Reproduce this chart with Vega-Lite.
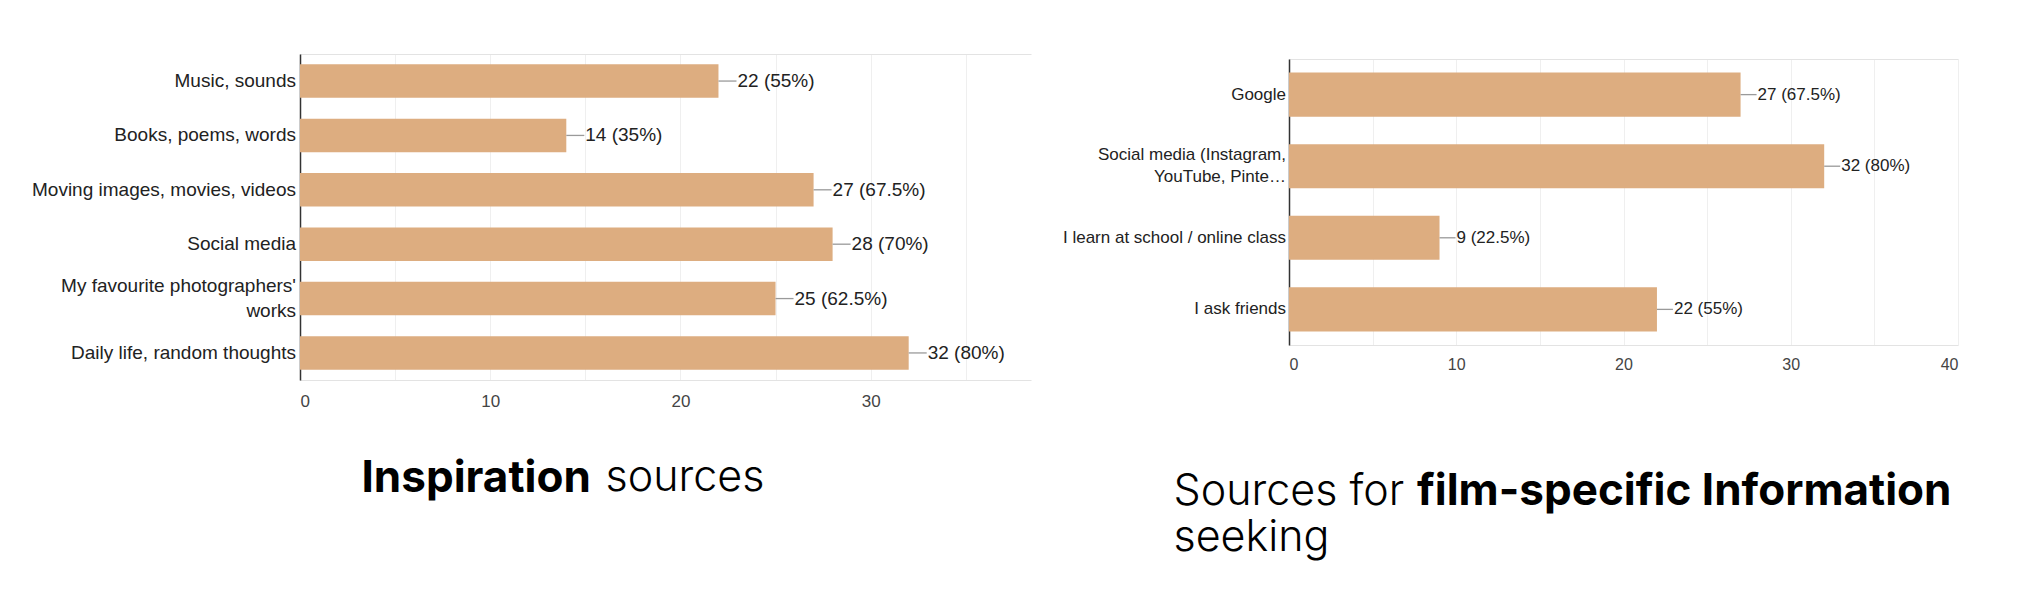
{
  "$schema": "https://vega.github.io/schema/vega-lite/v6.json",
  "padding": {"left": 31, "top": 54, "right": 5, "bottom": 5},
  "background": "white",
  "spacing": 258,
  "bounds": "flush",
  "config": {"font": "Liberation Sans"},
  "datasets": {
    "inspiration": [
      {"source": "Music, sounds", "count": 22, "label": "22 (55%)"},
      {"source": "Books, poems, words", "count": 14, "label": "14 (35%)"},
      {"source": "Moving images, movies, videos", "count": 27, "label": "27 (67.5%)"},
      {"source": "Social media", "count": 28, "label": "28 (70%)"},
      {"source": "My favourite photographers' works", "count": 25, "label": "25 (62.5%)"},
      {"source": "Daily life, random thoughts", "count": 32, "label": "32 (80%)"}
    ],
    "film": [
      {"source": "Google", "count": 27, "label": "27 (67.5%)"},
      {"source": "Social media (Instagram, YouTube, Pinte…", "count": 32, "label": "32 (80%)"},
      {"source": "I learn at school / online class", "count": 9, "label": "9 (22.5%)"},
      {"source": "I ask friends", "count": 22, "label": "22 (55%)"}
    ]
  },
  "hconcat": [
    {
      "width": 731,
      "height": 326,
      "view": {"stroke": null},
      "data": {"name": "inspiration"},
      "layer": [
        {
          "mark": {"type": "bar", "color": "#ddad80"},
          "encoding": {
            "y": {
              "field": "source", "type": "nominal", "sort": null,
              "scale": {"paddingInner": 0.385, "paddingOuter": 0.19},
              "axis": {
                "orient": "left", "domain": true, "domainColor": "#333333", "domainWidth": 1.5,
                "ticks": false, "tickSize": 0, "grid": false,
                "labelPadding": 4.5, "labelFont": "Liberation Sans", "labelFontSize": 19,
                "labelColor": "#222222", "labelLimit": 500, "labelLineHeight": 25,
                "labelExpr": "indexof(datum.value, 'My favourite') == 0 ? ['My favourite photographers\\'', 'works'] : datum.label",
                "labelOffset": {"condition": {"test": "indexof(datum.value, 'My favourite') == 0", "value": -12.5}, "value": 0},
                "title": "Inspiration", "titleAngle": 0, "titleAlign": "left", "titleBaseline": "alphabetic",
                "titleX": 61, "titleY": 437.5, "titleFont": "Inter", "titleFontWeight": 700,
                "titleFontSize": 44, "titleColor": "#000000"
              }
            },
            "x": {
              "field": "count", "type": "quantitative",
              "scale": {"domain": [0, 38.43], "nice": false, "zero": true},
              "axis": {
                "orient": "bottom", "values": [0, 10, 20, 30],
                "grid": false, "ticks": false, "tickSize": 0,
                "domain": true, "domainColor": "#e3e3e3",
                "labelFont": "Liberation Sans", "labelFontSize": 17, "labelColor": "#444444",
                "labelPadding": 21, "labelBaseline": "middle",
                "title": "sources", "titleAngle": 0, "titleAlign": "left", "titleBaseline": "alphabetic",
                "titleX": 305, "titleY": 110.5, "titleFont": "Inter", "titleFontWeight": 300,
                "titleFontSize": 43, "titleColor": "#000000"
              }
            }
          }
        },
        {
          "mark": {"type": "rule", "x2Offset": 18, "color": "#9a9a9a", "strokeWidth": 1.3},
          "encoding": {
            "y": {"field": "source", "type": "nominal", "sort": null},
            "x": {
              "field": "count", "type": "quantitative",
              "scale": {"domain": [0, 38.43], "nice": false, "zero": true},
              "axis": {
                "orient": "top", "values": [0, 5, 10, 15, 20, 25, 30, 35],
                "labels": false, "ticks": false, "tickSize": 0,
                "grid": true, "gridColor": "#efefef",
                "domain": true, "domainColor": "#e3e3e3", "title": null
              }
            },
            "x2": {"field": "count"}
          }
        },
        {
          "mark": {"type": "text", "align": "left", "baseline": "middle", "dx": 19, "fontSize": 19, "font": "Liberation Sans", "color": "#222222"},
          "encoding": {
            "y": {"field": "source", "type": "nominal", "sort": null},
            "x": {"field": "count", "type": "quantitative", "scale": {"domain": [0, 38.43], "nice": false, "zero": true}, "axis": null},
            "text": {"field": "label"}
          }
        }
      ],
      "resolve": {"axis": {"x": "independent"}}
    },
    {
      "width": 669,
      "height": 291,
      "view": {"stroke": null},
      "data": {"name": "film"},
      "layer": [
        {
          "mark": {"type": "bar", "color": "#ddad80"},
          "encoding": {
            "y": {
              "field": "source", "type": "nominal", "sort": null,
              "scale": {"paddingInner": 0.385, "paddingOuter": 0.19, "range": [5, 291]},
              "axis": {
                "orient": "left", "domain": true, "domainColor": "#333333", "domainWidth": 1.5,
                "ticks": false, "tickSize": 0, "grid": false,
                "labelPadding": 3.5, "labelFont": "Liberation Sans", "labelFontSize": 17,
                "labelColor": "#222222", "labelLimit": 500, "labelLineHeight": 22,
                "labelExpr": "indexof(datum.value, 'Social media') == 0 ? ['Social media (Instagram,', 'YouTube, Pinte…'] : datum.label",
                "labelOffset": {"condition": {"test": "indexof(datum.value, 'Social media') == 0", "value": -11}, "value": 0},
                "title": "film-specific Information", "titleAngle": 0, "titleAlign": "right", "titleBaseline": "alphabetic",
                "titleX": 662, "titleY": 450, "titleFont": "Inter", "titleFontWeight": 700,
                "titleFontSize": 44, "titleColor": "#000000"
              }
            },
            "x": {
              "field": "count", "type": "quantitative",
              "scale": {"domain": [0, 40], "nice": false, "zero": true},
              "axis": {
                "orient": "bottom", "values": [0, 10, 20, 30, 40],
                "grid": false, "ticks": false, "tickSize": 0,
                "domain": true, "domainColor": "#e3e3e3",
                "labelFont": "Liberation Sans", "labelFontSize": 16, "labelColor": "#444444",
                "labelPadding": 19, "labelBaseline": "middle",
                "title": ["Sources for", "seeking"], "titleAngle": 0, "titleAlign": "left", "titleBaseline": "alphabetic",
                "titleX": -116, "titleY": 159, "titleLineHeight": 46, "titleFont": "Inter", "titleFontWeight": 300,
                "titleFontSize": 43, "titleColor": "#000000"
              }
            }
          }
        },
        {
          "mark": {"type": "rule", "x2Offset": 16, "color": "#9a9a9a", "strokeWidth": 1.3},
          "encoding": {
            "y": {"field": "source", "type": "nominal", "sort": null},
            "x": {
              "field": "count", "type": "quantitative",
              "scale": {"domain": [0, 40], "nice": false, "zero": true},
              "axis": {
                "orient": "top", "values": [0, 5, 10, 15, 20, 25, 30, 35, 40],
                "labels": false, "ticks": false, "tickSize": 0, "offset": -5,
                "grid": true, "gridColor": "#efefef",
                "domain": true, "domainColor": "#e3e3e3", "title": null
              }
            },
            "x2": {"field": "count"}
          }
        },
        {
          "mark": {"type": "text", "align": "left", "baseline": "middle", "dx": 17, "fontSize": 17, "font": "Liberation Sans", "color": "#222222"},
          "encoding": {
            "y": {"field": "source", "type": "nominal", "sort": null},
            "x": {"field": "count", "type": "quantitative", "scale": {"domain": [0, 40], "nice": false, "zero": true}, "axis": null},
            "text": {"field": "label"}
          }
        }
      ],
      "resolve": {"axis": {"x": "independent"}}
    }
  ]
}
